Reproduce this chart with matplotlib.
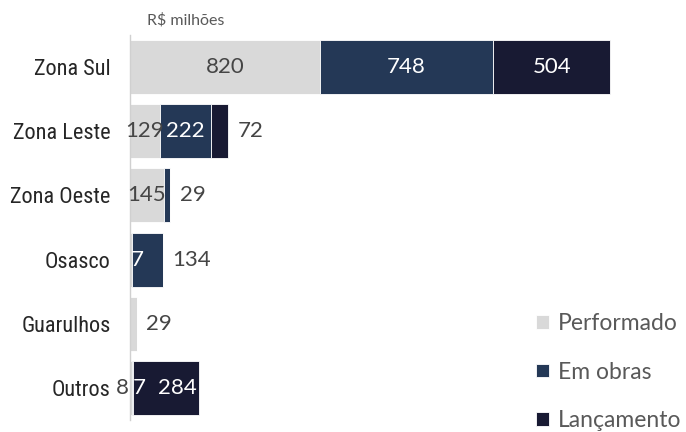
import matplotlib.pyplot as plt
import numpy as np

# dados (R$ milhões)
regioes = ["Zona Sul", "Zona Leste", "Zona Oeste", "Osasco", "Guarulhos", "Outros"]
performado = [820, 129, 145, 7, 29, 8]
em_obras = [748, 222, 29, 134, 0, 7]
lancamento = [504, 72, 0, 0, 0, 284]
series_nomes = ["Performado", "Em obras", "Lançamento"]

cores = ["#d9d9d9", "#243856", "#181a33"]
cor_texto = "#454545"
fonte = ["Lato", "DejaVu Sans"]
fonte_cat = ["Roboto Condensed", "Roboto", "DejaVu Sans"]

fig = plt.figure(figsize=(6.86, 4.32), dpi=100)
ax = fig.add_axes([130 / 686, 12 / 432, 556 / 686, 385 / 432])

y = np.arange(len(regioes))
valores = [performado, em_obras, lancamento]
left = np.zeros(len(regioes))
for vals, cor, nome in zip(valores, cores, series_nomes):
    ax.barh(y, vals, left=left, height=0.84, color=cor, edgecolor="white",
            linewidth=0.6, label=nome)
    left = left + np.array(vals)

total = left


# rótulos
def txt(x, yy, s, cor, ha="center"):
    ax.text(x, yy, s, ha=ha, va="center", fontsize=16, color=cor,
            family=fonte)


for i in range(len(regioes)):
    p, e, l = performado[i], em_obras[i], lancamento[i]
    if i == 0:
        txt(p / 2, i, str(p), cor_texto)
        txt(p + e / 2, i, str(e), "white")
        txt(p + e + l / 2, i, str(l), "white")
    elif i == 1:
        txt(p / 2, i, str(p), cor_texto)
        txt(p + e / 2, i, str(e), "white")
        txt(total[i] + 100, i, str(l), cor_texto)
    elif i == 2:
        txt(p / 2, i, str(p), cor_texto)
        txt(total[i] + 40, i, str(e), cor_texto, ha="left")
    elif i == 3:
        txt(4, i, str(p), "white", ha="left")
        txt(total[i] + 40, i, str(e), cor_texto, ha="left")
    elif i == 4:
        txt(total[i] + 40, i, str(p), cor_texto, ha="left")
    else:
        txt(-5, i, str(p), cor_texto, ha="right")
        txt(p + 5, i, str(e), "white", ha="left")
        txt(total[i] - 10, i, str(l), "white", ha="right")

ax.set_xlim(0, 2400)
ax.set_ylim(len(regioes) - 0.5, -0.5)
ax.set_yticks(y)
ax.set_yticklabels(regioes, fontsize=16, color="#262626", family=fonte_cat)
ax.tick_params(axis="y", length=0, pad=14)
ax.set_xticks([])
for lado in ["top", "right", "bottom"]:
    ax.spines[lado].set_visible(False)
ax.spines["left"].set_color("#d0d0d0")
ax.spines["left"].set_linewidth(1)

fig.text(147 / 686, 1 - 20 / 432, "R$ milhões", fontsize=11.5, color="#595959",
         family=fonte, va="center")

leg = fig.legend(loc="upper left", bbox_to_anchor=(527 / 686, 1 - 304 / 432),
                 bbox_transform=fig.transFigure, frameon=False,
                 labelspacing=1.2, handlelength=0.55, handleheight=0.55,
                 handletextpad=0.4, borderaxespad=0,
                 prop={"family": fonte, "size": 16.5})
for t in leg.get_texts():
    t.set_color("#595959")

plt.savefig("out.png", dpi=100)
